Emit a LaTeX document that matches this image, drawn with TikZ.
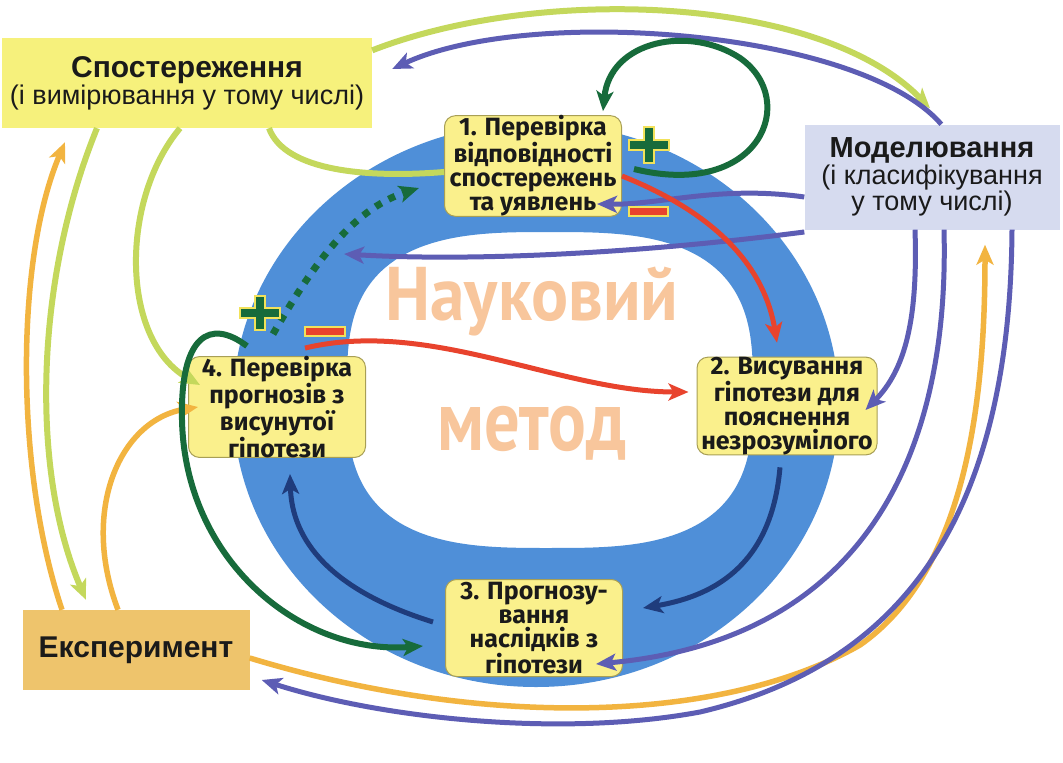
\documentclass[tikz,border=0pt]{standalone}
\usepackage{fontspec}
\setmainfont{Liberation Sans}
\newfontfamily\stepfont{Fira Sans}
\newfontfamily\titlefont{PT Sans}
\usetikzlibrary{arrows.meta,calc}
\definecolor{ink}{HTML}{1A1A1A}
\definecolor{ringblue}{HTML}{4F8FD8}
\definecolor{titlepeach}{HTML}{F8C69C}
\definecolor{stepfill}{HTML}{FAF08C}
\definecolor{stepedge}{HTML}{A89F55}
\definecolor{obsfill}{HTML}{F6F17C}
\definecolor{modelfill}{HTML}{D6DBEF}
\definecolor{expfill}{HTML}{EEC46C}
\definecolor{limeline}{HTML}{C4D85C}
\definecolor{orangeline}{HTML}{F2B440}
\definecolor{purpleline}{HTML}{5D5DB4}
\definecolor{redline}{HTML}{E8432D}
\definecolor{darkgreen}{HTML}{176B3B}
\definecolor{navyline}{HTML}{1F3C7C}
\definecolor{signedge}{HTML}{F2E25A}

\begin{document}
\begin{tikzpicture}[x=1pt,y=-1pt,text=ink,>={Stealth[length=20pt,width=17pt,inset=5pt]},
  stepbox/.style={draw=stepedge,line width=1pt,fill=stepfill,rounded corners=11pt,
    minimum width=177pt,minimum height=100pt,align=center,inner sep=0pt,
    font=\stepfont\bfseries\fontsize{25}{24}\selectfont},
  sidebox/.style={align=center,inner sep=0pt},
  titletext/.style={text=titlepeach,anchor=base},
  limeflow/.style={limeline,line width=6pt},
  orangeflow/.style={orangeline,line width=5.5pt},
  purpleflow/.style={purpleline,line width=5pt},
  redflow/.style={redline,line width=5pt},
  darkflow/.style={darkgreen,line width=6pt},
  navyflow/.style={navyline,line width=5pt}]
  \useasboundingbox (0,0) rectangle (1063,763);
  \fill[white] (0,0) rectangle (1063,763);
  \fill[ringblue,even odd rule] (536,405) ellipse [x radius=303pt,y radius=282pt]
    plot[domain=0.5:360.5,samples=121,smooth]
      ({550+203*cos(\x)*pow(abs(cos(\x)),-0.333)},{390+158*sin(\x)*pow(abs(sin(\x)),-0.333)}) -- cycle;
  \node[titletext] (title1) at (532,320)
    {\titlefont\bfseries\fontsize{76}{76}\selectfont\scalebox{0.91}[1]{Науковий}};
  \node[titletext] (title2) at (532,450)
    {\titlefont\bfseries\fontsize{86}{86}\selectfont\scalebox{0.82}[1]{метод}};

  \node[stepbox] (s1) at (533,166) {1. Перевірка\\відповідності\\спостережень\\та уявлень};
  \node[stepbox,minimum width=180pt,minimum height=97pt] (s2) at (787,406) {2. Висування\\гіпотези для\\пояснення\\незрозумілого};
  \node[stepbox,minimum height=97pt] (s3) at (534,628) {3. Прогнозу-\\вання\\наслідків з\\гіпотези};
  \node[stepbox] (s4) at (277,407) {4. Перевірка\\прогнозів з\\висунутої\\гіпотези};

  \node[sidebox,fill=obsfill,minimum width=370pt,minimum height=90pt] (obs) at (187,83)
    {\fontsize{30}{30}\selectfont\bfseries Спостереження\\\fontsize{27}{30}\selectfont(і вимірювання у тому числі)};
  \node[sidebox,fill=modelfill,minimum width=255pt,minimum height=105pt] (model) at (932,177)
    {\fontsize{29}{25}\selectfont\bfseries Моделювання\\\fontsize{27}{25}\selectfont(і класифікування\\
     \fontsize{27}{25}\selectfont у тому числі)};
  \node[sidebox,fill=expfill,minimum width=227pt,minimum height=80pt] (exp) at (136,650)
    {\fontsize{30}{30}\selectfont\bfseries Експеримент};
  \coordinate (ringL) at (344,254);

  \draw[limeflow] ([xshift=82pt]obs.south) .. controls (285,172) and (370,178) .. ([yshift=-6pt]s1.west);
  \draw[limeflow,->] (obs.10) .. controls (540,-15) and (820,-5) .. ([xshift=-2pt,yshift=16pt]model.north);
  \draw[purpleflow,->] (model.80) .. controls (860,30) and (530,5) .. ([xshift=20pt,yshift=14pt]obs.east);
  \draw[limeflow,->] ([xshift=-7pt]obs.south) .. controls (120,200) and (120,340) .. ([xshift=12pt,yshift=22pt]s4.west);
  \draw[limeflow,->] ([xshift=-90pt]obs.south) .. controls (35,280) and (30,470) .. ([xshift=-50pt,yshift=10pt]exp.north);
  \draw[orangeflow,->] ([xshift=-74pt]exp.north) .. controls (15,470) and (15,260) .. ([xshift=-122pt,yshift=-14pt]obs.south);
  \draw[orangeflow,->] ([xshift=-18pt]exp.north) .. controls (80,510) and (120,420) .. ([xshift=10pt]s4.west);
  \draw[orangeflow,->] ([yshift=-8pt]exp.east) .. controls (480,728) and (720,725) .. (860,645)
    .. controls (960,575) and (985,420) .. ([xshift=53pt,yshift=-15pt]model.south);

  \draw[purpleflow,->] ([yshift=-20pt]model.west) .. controls (720,185) and (660,205) .. ([xshift=-25pt,yshift=-38pt]s1.east);
  \draw[purpleflow,->] ([yshift=-55pt]model.west) .. controls (650,252) and (480,262) .. (ringL);
  \draw[purpleflow,->] ([xshift=-17pt]model.south) .. controls (918,320) and (905,370) .. ([xshift=-12pt,yshift=-4pt]s2.east);
  \draw[purpleflow,->] ([xshift=12pt]model.south) .. controls (950,460) and (860,640) .. ([xshift=-27pt,yshift=-36pt]s3.east);
  \draw[purpleflow,->] ([xshift=80pt]model.south) .. controls (1010,520) and (900,665) .. (700,712)
    .. controls (560,738) and (380,718) .. ([xshift=12pt,yshift=-30pt]exp.east);

  \draw[redflow,->] ([yshift=-10pt]s1.east) .. controls (720,215) and (765,270) .. ([xshift=-10pt,yshift=14pt]s2.north);
  \draw[redflow,->] ([xshift=28pt,yshift=8pt]s4.north) .. controls (430,318) and (560,392) .. ([xshift=-8pt,yshift=14pt]s2.west);

  \draw[darkflow,->] ([xshift=12pt,yshift=-3pt]s1.east) .. controls (760,200) and (800,100) .. (740,58)
    .. controls (690,25) and (610,40) .. ([xshift=70pt,yshift=4pt]s1.north);
  \draw[darkflow,line width=7pt,dash pattern=on 7pt off 8pt,->] ([xshift=-4pt,yshift=22pt]s4.north)
    .. controls (310,270) and (350,210) .. ([xshift=-25pt,yshift=-22pt]s1.west);
  \draw[darkflow,->] ([xshift=-30pt,yshift=10pt]s4.north) .. controls (210,318) and (180,335) .. (182,420)
    .. controls (185,560) and (300,655) .. ([xshift=-22pt,yshift=-18pt]s3.west);

  \draw[navyflow,->] ([xshift=-7pt,yshift=-12pt]s2.south) .. controls (772,560) and (720,595) .. ([xshift=20pt,yshift=20pt]s3.east);
  \draw[navyflow,->] ([xshift=-12pt,yshift=6pt]s3.west) .. controls (330,590) and (292,540) .. ([xshift=13pt,yshift=-16pt]s4.south);

  \filldraw[fill=darkgreen,draw=signedge,line width=1.5pt] (649,145) ++(-5,-18) -- ++(10,0) -- ++(0,13)
    -- ++(15,0) -- ++(0,10) -- ++(-15,0) -- ++(0,13) -- ++(-10,0) -- ++(0,-13) -- ++(-15,0)
    -- ++(0,-10) -- ++(15,0) -- cycle;
  \filldraw[fill=darkgreen,draw=signedge,line width=1.5pt] (260,313) ++(-5,-17) -- ++(10,0) -- ++(0,12)
    -- ++(15,0) -- ++(0,10) -- ++(-15,0) -- ++(0,12) -- ++(-10,0) -- ++(0,-12) -- ++(-15,0)
    -- ++(0,-10) -- ++(15,0) -- cycle;
  \filldraw[fill=redline,draw=signedge,line width=1.5pt] (629,207) rectangle (668,216);
  \filldraw[fill=redline,draw=signedge,line width=1.5pt] (305,327) rectangle (345,336);
\end{tikzpicture}
\end{document}
